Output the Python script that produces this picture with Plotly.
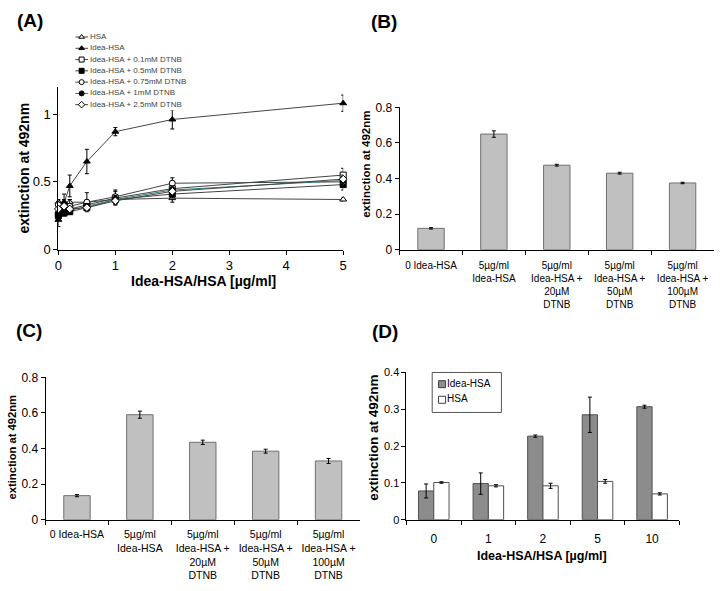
import plotly.graph_objects as go

FONT = "Arial, Liberation Sans, sans-serif"
W, H = 720, 591

# ---------------- data ----------------
# Panel A
a_x = [0, 0.1, 0.2, 0.5, 1, 2, 5]
a_names = ["HSA", "Idea-HSA", "Idea-HSA + 0.1mM DTNB", "Idea-HSA + 0.5mM DTNB",
           "Idea-HSA + 0.75mM DTNB", "Idea-HSA + 1mM DTNB", "Idea-HSA + 2.5mM DTNB"]
a_hsa = [0.35, 0.35, 0.35, 0.35, 0.37, 0.38, 0.37]
a_hsa_err = [0.02, 0.02, 0.02, 0.02, 0.02, 0.03, 0.01]
a_idea = [0.22, 0.35, 0.47, 0.65, 0.87, 0.96, 1.08]
a_idea_err = [0.05, 0.06, 0.08, 0.09, 0.03, 0.07, 0.06]
a_d01 = [0.26, 0.28, 0.30, 0.33, 0.38, 0.45, 0.55]
a_d01_err = [0.03, 0.03, 0.03, 0.03, 0.05, 0.04, 0.05]
a_d05 = [0.25, 0.27, 0.28, 0.31, 0.37, 0.41, 0.48]
a_d05_err = [0.02, 0.02, 0.02, 0.02, 0.03, 0.03, 0.04]
a_d075 = [0.33, 0.31, 0.32, 0.35, 0.39, 0.49, 0.50]
a_d075_err = [0.03, 0.03, 0.05, 0.07, 0.05, 0.04, 0.04]
a_d1 = [0.26, 0.28, 0.29, 0.32, 0.37, 0.44, 0.51]
a_d1_err = [0.02, 0.02, 0.02, 0.02, 0.03, 0.03, 0.03]
a_d25 = [0.30, 0.32, 0.30, 0.31, 0.36, 0.43, 0.52]
a_d25_err = [0.02, 0.02, 0.02, 0.02, 0.03, 0.03, 0.03]

# Panel B / C
bc_labels = ["0 Idea-HSA", "5µg/ml<br>Idea-HSA",
             "5µg/ml<br>Idea-HSA +<br>20µM<br>DTNB",
             "5µg/ml<br>Idea-HSA +<br>50µM<br>DTNB",
             "5µg/ml<br>Idea-HSA +<br>100µM<br>DTNB"]
b_vals = [0.12, 0.65, 0.475, 0.43, 0.375]
b_err = [0.004, 0.018, 0.005, 0.005, 0.004]
c_vals = [0.135, 0.59, 0.435, 0.385, 0.33]
c_err = [0.006, 0.02, 0.012, 0.011, 0.014]

# Panel D
d_cats = ["0", "1", "2", "5", "10"]
d_idea = [0.078, 0.098, 0.227, 0.285, 0.307]
d_idea_err = [0.019, 0.029, 0.003, 0.048, 0.004]
d_hsa = [0.101, 0.092, 0.092, 0.104, 0.070]
d_hsa_err = [0.002, 0.003, 0.007, 0.005, 0.003]
d_names = ["Idea-HSA", "HSA"]

# ---------------- helpers ----------------
def px_x(p):
    return p / W

def px_y(p):
    return 1 - p / H

fig = go.Figure()

# ---------------- Panel A ----------------
a_series = [
    (a_hsa, a_hsa_err, "triangle-up", "white", "#444"),
    (a_idea, a_idea_err, "triangle-up", "black", "#444"),
    (a_d01, a_d01_err, "square", "white", "#444"),
    (a_d05, a_d05_err, "square", "black", "#444"),
    (a_d075, a_d075_err, "circle", "white", "#444"),
    (a_d1, a_d1_err, "circle", "black", "#2f7f7a"),
    (a_d25, a_d25_err, "diamond", "white", "#444"),
]
for name, (vals, err, sym, fill, lc) in zip(a_names, a_series):
    fig.add_trace(go.Scatter(
        x=a_x, y=vals, name=name, mode="lines+markers",
        line=dict(color=lc, width=1),
        marker=dict(symbol=sym, size=6, color=fill, line=dict(color="black", width=1)),
        error_y=dict(type="data", array=err, color="black", thickness=1, width=2),
        xaxis="x", yaxis="y", showlegend=False, cliponaxis=False))

# Legend for A (own small axis)
for i, (name, (vals, err, sym, fill, lc)) in enumerate(zip(a_names, a_series)):
    fig.add_trace(go.Scatter(
        x=[0, 1], y=[i, i], mode="lines", line=dict(color=lc, width=1),
        xaxis="x5", yaxis="y5", showlegend=False, hoverinfo="skip"))
    fig.add_trace(go.Scatter(
        x=[0.5], y=[i], mode="markers",
        marker=dict(symbol=sym, size=5, color=fill, line=dict(color="black", width=1)),
        xaxis="x5", yaxis="y5", showlegend=False, hoverinfo="skip"))
    fig.add_trace(go.Scatter(
        x=[1.15], y=[i], mode="text", text=[name], textposition="middle right",
        textfont=dict(size=8, color="#444", family=FONT),
        xaxis="x5", yaxis="y5", showlegend=False, hoverinfo="skip"))

# ---------------- Panel B ----------------
fig.add_trace(go.Bar(
    x=bc_labels, y=b_vals, width=0.42,
    marker=dict(color="#c0c0c0", line=dict(color="#707070", width=1)),
    error_y=dict(type="data", array=b_err, color="black", thickness=1, width=2),
    xaxis="x2", yaxis="y2", showlegend=False))

# ---------------- Panel C ----------------
fig.add_trace(go.Bar(
    x=bc_labels, y=c_vals, width=0.42,
    marker=dict(color="#c0c0c0", line=dict(color="#707070", width=1)),
    error_y=dict(type="data", array=c_err, color="black", thickness=1, width=2),
    xaxis="x3", yaxis="y3", showlegend=False))

# ---------------- Panel D ----------------
fig.add_trace(go.Bar(
    x=d_cats, y=d_idea, name=d_names[0], width=0.28, offset=-0.28,
    marker=dict(color="#8c8c8c", line=dict(color="#505050", width=1)),
    error_y=dict(type="data", array=d_idea_err, color="black", thickness=1, width=2),
    xaxis="x4", yaxis="y4", showlegend=False))
fig.add_trace(go.Bar(
    x=d_cats, y=d_hsa, name=d_names[1], width=0.28, offset=0,
    marker=dict(color="white", line=dict(color="#505050", width=1)),
    error_y=dict(type="data", array=d_hsa_err, color="black", thickness=1, width=2),
    xaxis="x4", yaxis="y4", showlegend=False))

# Legend for D (own small axis)
d_fills = ["#8c8c8c", "white"]
for i, (name, fill) in enumerate(zip(d_names, d_fills)):
    fig.add_trace(go.Scatter(
        x=[0.6], y=[i], mode="markers",
        marker=dict(symbol="square", size=7, color=fill, line=dict(color="#404040", width=1)),
        xaxis="x6", yaxis="y6", showlegend=False, hoverinfo="skip"))
    fig.add_trace(go.Scatter(
        x=[1.1], y=[i], mode="text", text=[name], textposition="middle right",
        textfont=dict(size=10, color="black", family=FONT),
        xaxis="x6", yaxis="y6", showlegend=False, hoverinfo="skip"))

# ---------------- axes ----------------
def lin_axis(**kw):
    base = dict(showline=True, linecolor="black", linewidth=1, ticks="outside",
                ticklen=4, tickcolor="black", showgrid=False, zeroline=False,
                tickfont=dict(family=FONT, size=12, color="black"), fixedrange=True)
    base.update(kw)
    return base

hidden = dict(visible=False, fixedrange=True)

fig.update_layout(
    width=W, height=H, margin=dict(l=0, r=0, t=0, b=0),
    paper_bgcolor="white", plot_bgcolor="white",
    font=dict(family=FONT, color="black"),
    barmode="group",
    xaxis=lin_axis(domain=[px_x(55), px_x(343)], range=[0, 5], dtick=1,
                   tickfont=dict(family=FONT, size=13, color="black"), anchor="y"),
    yaxis=lin_axis(domain=[px_y(249), px_y(82)], range=[0, 1.2],
                   tickvals=[0, 0.5, 1], ticktext=["0", "0.5", "1"],
                   tickfont=dict(family=FONT, size=13, color="black"), anchor="x"),
    xaxis2=lin_axis(domain=[px_x(400), px_x(718)], type="category", tickson="boundaries",
                    ticklabelstandoff=6, tickangle=0,
                    tickfont=dict(family=FONT, size=10, color="black"), anchor="y2"),
    yaxis2=lin_axis(domain=[px_y(249), px_y(103)], range=[0, 0.8], dtick=0.2,
                    anchor="x2"),
    xaxis3=lin_axis(domain=[px_x(42), px_x(360)], type="category", tickson="boundaries",
                    ticklabelstandoff=5, tickangle=0,
                    tickfont=dict(family=FONT, size=10.5, color="black"), anchor="y3"),
    yaxis3=lin_axis(domain=[px_y(526), px_y(380)], range=[0, 0.8], dtick=0.2,
                    anchor="x3"),
    xaxis4=lin_axis(domain=[px_x(407), px_x(683)], type="category", tickson="boundaries",
                    ticklabelstandoff=8, tickangle=0,
                    tickfont=dict(family=FONT, size=12, color="black"), anchor="y4"),
    yaxis4=lin_axis(domain=[px_y(526), px_y(375)], range=[0, 0.4], dtick=0.1,
                    tickfont=dict(family=FONT, size=11, color="black"), anchor="x4"),
    xaxis5=dict(domain=[px_x(72), px_x(202)], range=[0, 10], anchor="y5", **hidden),
    yaxis5=dict(domain=[px_y(106), px_y(25)], range=[6.5, -0.5], anchor="x5", **hidden),
    xaxis6=dict(domain=[px_x(437), px_x(500)], range=[0, 6.3], anchor="y6", **hidden),
    yaxis6=dict(domain=[px_y(411), px_y(379)], range=[1.5, -0.5], anchor="x6", **hidden),
)

# legend box for D
fig.add_shape(type="rect", xref="paper", yref="paper",
              x0=px_x(433), x1=px_x(503), y0=px_y(416), y1=px_y(375),
              line=dict(color="#555", width=1), fillcolor="rgba(0,0,0,0)")

# ---------------- text ----------------
def ann(text, x, y, size, bold=True, angle=0):
    fig.add_annotation(text=f"<b>{text}</b>" if bold else text,
                       x=px_x(x), y=px_y(y), xref="paper", yref="paper",
                       showarrow=False, textangle=angle,
                       font=dict(family=FONT, size=size, color="black"),
                       xanchor="center", yanchor="middle")

ann("(A)", 26, 14, 19)
ann("(B)", 384, 15, 19)
ann("(C)", 25, 332, 19)
ann("(D)", 385, 333, 19)

ann("extinction at 492nm", 20, 165, 14, angle=-90)
ann("Idea-HSA/HSA [µg/ml]", 202, 281, 14)
ann("extinction at 492nm", 366, 161, 11.5, angle=-90)
ann("extinction at 492nm", 8, 452, 11.2, angle=-90)
ann("extinction at 492nm", 374, 442, 13.5, angle=-90)
ann("Idea-HSA/HSA [µg/ml]", 544, 563, 12.5)

post = (
    "document.documentElement.style.margin='0';"
    "document.documentElement.style.padding='0';"
    "document.documentElement.style.overflow='hidden';"
    "document.body.style.margin='0';"
    "document.body.style.padding='0';"
    "document.body.style.overflow='hidden';"
    "var g=document.getElementById('{plot_id}');"
    "g.style.display='block';"
    "g.parentElement.style.height='591px';"
    "g.parentElement.style.width='720px';"
    "g.parentElement.style.overflow='hidden';"
)
fig.write_html("out.html", config={"displayModeBar": False}, post_script=post)
